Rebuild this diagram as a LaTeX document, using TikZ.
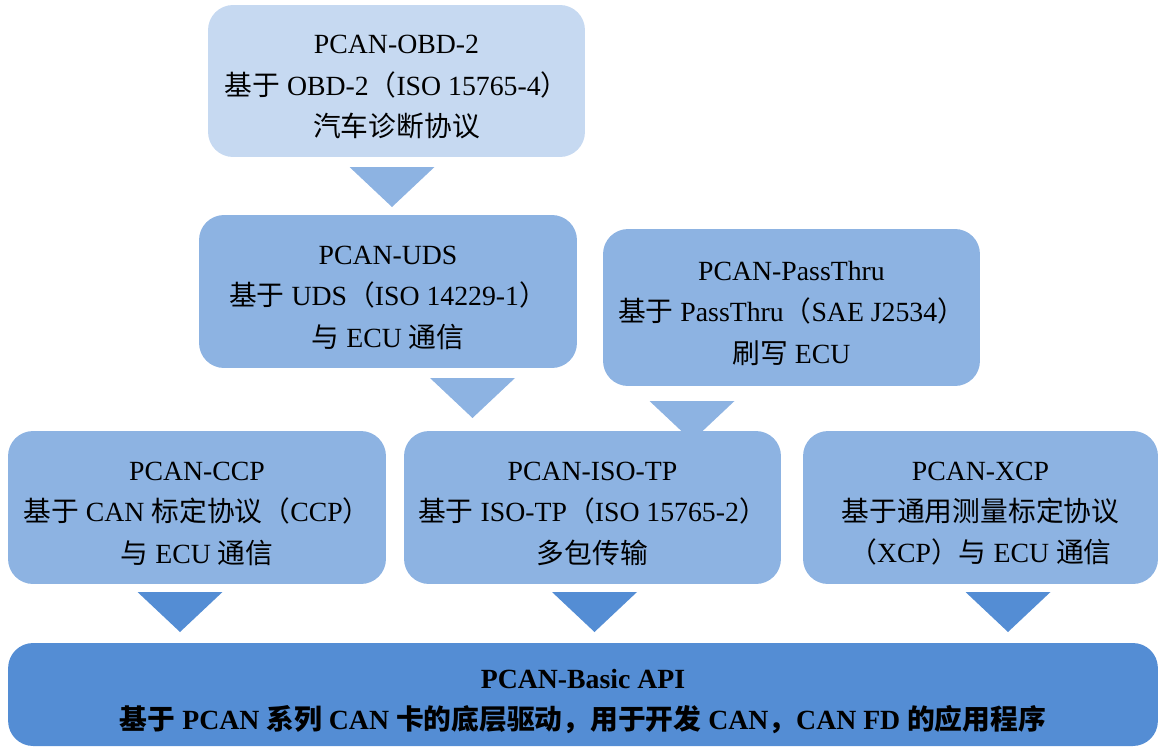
\documentclass[tikz,border=0pt]{standalone}
\usepackage{fontspec}
\setmainfont{Liberation Serif}
\newfontfamily\cjk{Noto Sans CJK SC}
\newcommand{\zh}[1]{{\cjk #1}}
\newcommand{\lift}[1][17.6pt]{\rule{0pt}{#1}}
\definecolor{lightblue}{HTML}{C6D9F1}
\definecolor{midblue}{HTML}{8DB3E2}
\definecolor{darkblue}{HTML}{548DD4}
\tikzset{
    box/.style={rounded corners=0.5cm, align=center, inner sep=0pt,
        font=\fontsize{15.8}{23.5}\selectfont},
}
\begin{document}
\begin{tikzpicture}[x=0.02cm,y=-0.02cm]
                \useasboundingbox (0,0) rectangle (1159,747);
                % arrow triangles (tip of the PassThru one hides under ISO-TP)
                \foreach \x/\y/\c in {392/167/midblue,472.5/378/midblue,692/401/midblue,
                                      180/592/darkblue,594.5/592/darkblue,1008/592/darkblue}{
                    \fill[\c] (\x-42.5,\y) -- (\x+42.5,\y) -- (\x,\y+40) -- cycle;
                }
                \node[box,fill=lightblue,minimum width=7.54cm,minimum height=3.04cm] (obd) at (396.5,81)
                    {\lift PCAN-OBD-2\\ \zh{基于} OBD-2\zh{（}ISO 15765-4\zh{）}\\ \zh{汽车诊断协议}};
                \node[box,fill=midblue,minimum width=7.56cm,minimum height=3.06cm] (uds) at (388,291.5)
                    {\lift PCAN-UDS\\ \zh{基于} UDS\zh{（}ISO 14229-1\zh{）}\\ \zh{与} ECU \zh{通信}};
                \node[box,fill=midblue,minimum width=7.54cm,minimum height=3.14cm] (passthru) at (791.5,307.5)
                    {\lift PCAN-PassThru\\ \zh{基于} PassThru\zh{（}SAE J2534\zh{）}\\ \zh{刷写} ECU};
                \node[box,fill=midblue,minimum width=7.56cm,minimum height=3.06cm] (ccp) at (197,507.5)
                    {\lift PCAN-CCP\\ \zh{基于} CAN \zh{标定协议（}CCP\zh{）}\\ \zh{与} ECU \zh{通信}};
                \node[box,fill=midblue,minimum width=7.54cm,minimum height=3.06cm] (isotp) at (592.5,507.5)
                    {\lift PCAN-ISO-TP\\ \zh{基于} ISO-TP\zh{（}ISO 15765-2\zh{）}\\ \zh{多包传输}};
                \node[box,fill=midblue,minimum width=7.10cm,minimum height=3.06cm] (xcp) at (980.5,507.5)
                    {\lift PCAN-XCP\\ \zh{基于通用测量标定协议}\\ \zh{（}XCP\zh{）与} ECU \zh{通信}};
                \node[box,fill=darkblue,minimum width=23.0cm,minimum height=2.06cm,
                      font=\fontsize{15.8}{23.8}\selectfont\bfseries] (api) at (583,694.5)
                    {\lift[19pt]PCAN-Basic API\\ \zh{基于} PCAN \zh{系列} CAN \zh{卡的底层驱动，用于开发} CAN\zh{，}CAN FD \zh{的应用程序}};
            \end{tikzpicture}
\end{document}
